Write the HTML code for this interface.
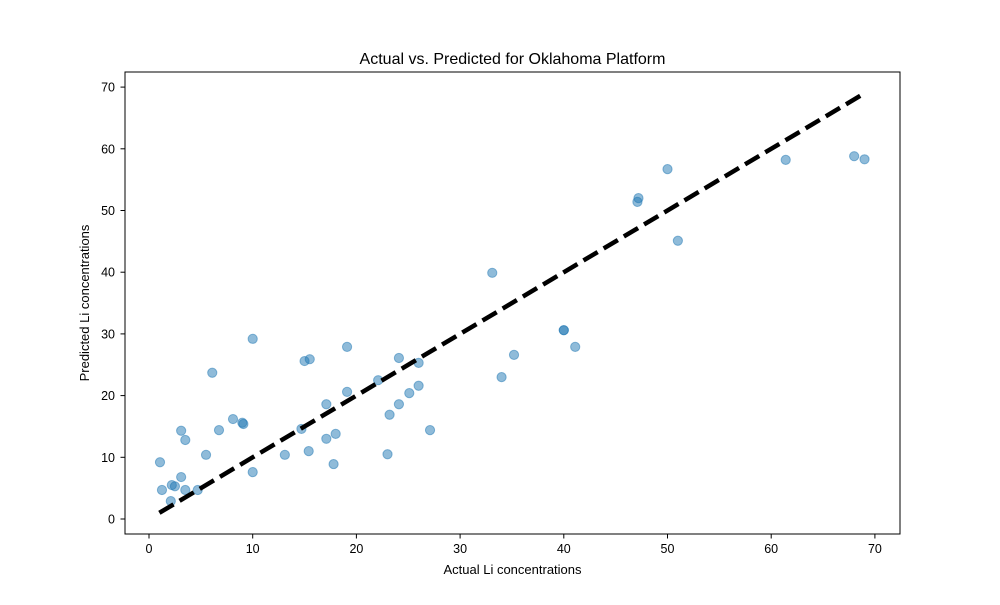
<!DOCTYPE html>
<html><head><meta charset="utf-8"><style>
body{margin:0;background:#fff}
svg text{font-family:"Liberation Sans","DejaVu Sans",sans-serif;fill:#000}
</style></head><body>
<svg id="chart" width="1000" height="600" xmlns="http://www.w3.org/2000/svg">
<rect width="1000" height="600" fill="#fff"/>
<text x="512.5" y="64" font-size="16" text-anchor="middle">Actual vs. Predicted for Oklahoma Platform</text>
<text x="512.5" y="574" font-size="13" text-anchor="middle">Actual Li concentrations</text>
<text transform="translate(89,303) rotate(-90)" font-size="13" text-anchor="middle">Predicted Li concentrations</text>
<g id="ticks"></g>
<g id="marks"></g>
<rect x="125" y="72" width="775" height="462" fill="none" stroke="#000" stroke-width="1"/>
</svg>
<script>
const actual=[1.06,1.25,2.1,2.2,2.5,3.1,3.1,3.5,3.5,4.7,5.5,6.1,6.75,8.1,9.0,9.1,10.0,10.0,13.1,14.7,15.0,15.4,15.5,17.1,17.1,17.8,18.0,19.1,19.1,22.1,23.0,23.2,24.1,24.1,25.1,26.0,26.0,27.1,33.1,34.0,35.2,40.0,40.0,41.1,47.1,47.2,50.0,51.0,61.4,68.0,69.0];
const predicted=[9.2,4.7,2.9,5.5,5.3,14.3,6.8,12.8,4.7,4.7,10.4,23.7,14.4,16.2,15.6,15.4,29.2,7.6,10.4,14.6,25.6,11.0,25.9,18.6,13.0,8.9,13.8,27.9,20.6,22.5,10.5,16.9,26.1,18.6,20.4,25.3,21.6,14.4,39.9,23.0,26.6,30.6,30.6,27.9,51.4,52.0,56.7,45.1,58.2,58.8,58.3];
const xTicks=[0,10,20,30,40,50,60,70];
const yTicks=[0,10,20,30,40,50,60,70];
const lineRange=[1,69];
const NS="http://www.w3.org/2000/svg";
function sx(v){return 149+v*10.37;}
function sy(v){return 519-v*6.17;}
function mk(t,a,p){const e=document.createElementNS(NS,t);for(const k in a)e.setAttribute(k,a[k]);p.appendChild(e);return e;}
const tk=document.getElementById('ticks'),mg=document.getElementById('marks');
xTicks.forEach(v=>{
 const l=mk('line',{x1:sx(v),x2:sx(v),y1:534,y2:538.5,stroke:'#000'},tk);
 
 
 const t=mk('text',{x:sx(v),y:553,'font-size':'12.5','text-anchor':'middle'},tk);t.textContent=v;
 
 
});
yTicks.forEach(v=>{
 const l=mk('line',{x1:120.5,x2:125,y1:sy(v),y2:sy(v),stroke:'#000'},tk);
 
 
 const t=mk('text',{x:115,y:sy(v)+4.5,'font-size':'12.5','text-anchor':'end'},tk);t.textContent=v;
 
 
});
actual.forEach((a,i)=>{
 const c=mk('circle',{cx:sx(a),cy:sy(predicted[i]),r:4.6,fill:'#1f77b4','fill-opacity':0.5,stroke:'#1f77b4','stroke-opacity':0.5,'stroke-width':1},mg);
 
 
});
const ln=mk('line',{x1:sx(lineRange[0]),y1:sy(lineRange[0]),x2:sx(lineRange[1]),y2:sy(lineRange[1]),stroke:'#000','stroke-width':4.5,'stroke-dasharray':'16.5,7'},mg);


</script>
</body></html>
